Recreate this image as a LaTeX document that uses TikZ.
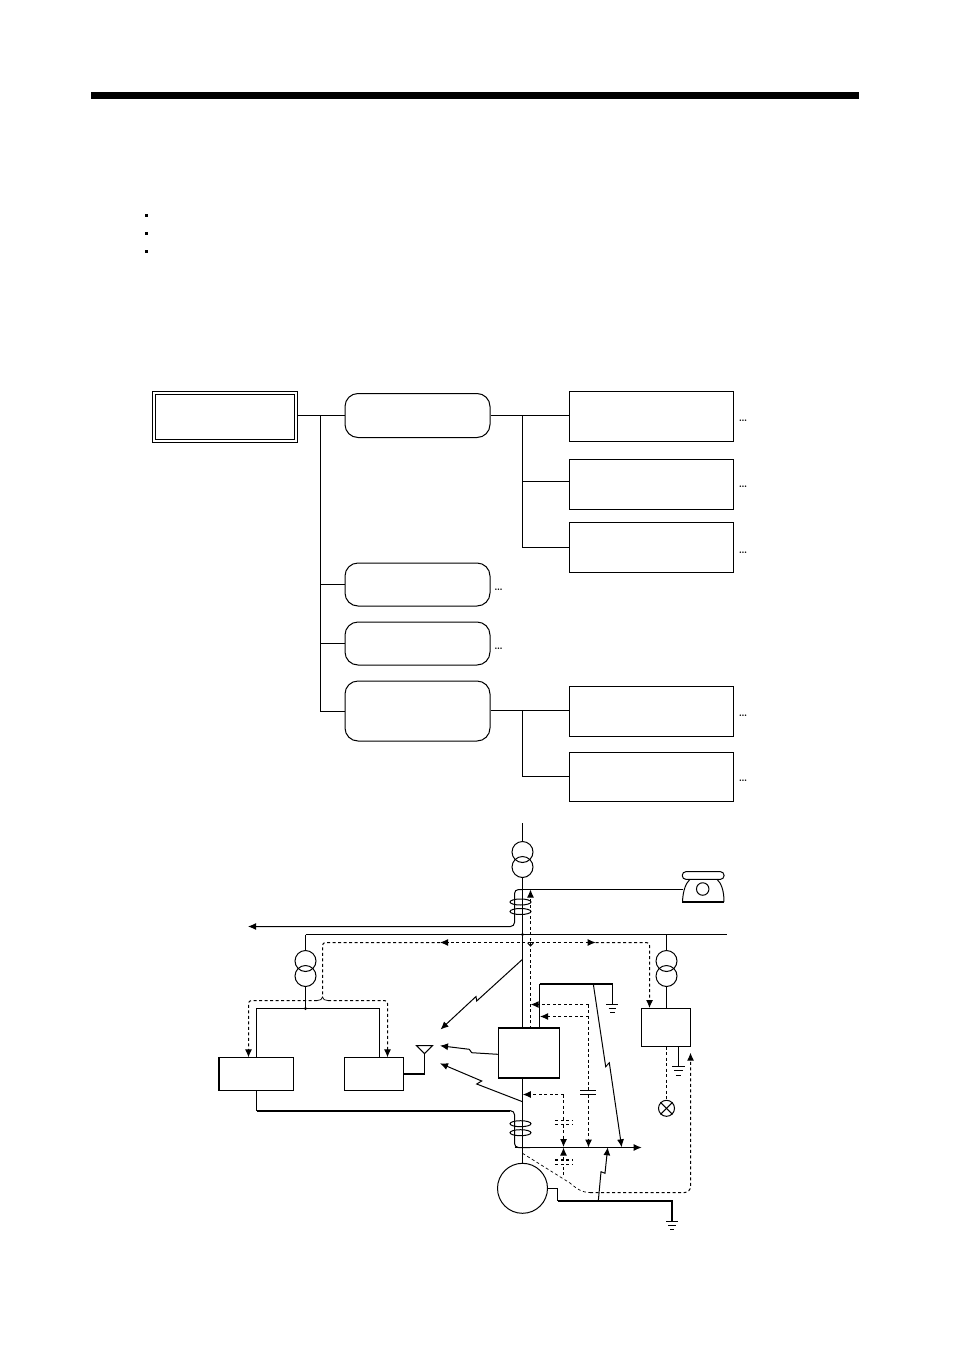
\documentclass[tikz,border=0pt]{standalone}
\usepackage{amsmath}
\usepackage{tikz}
\usetikzlibrary{arrows.meta,shapes.geometric}
\tikzset{
  wire/.style={line width=1pt},
  heavy/.style={line width=2.2pt},
  dashline/.style={line width=1pt, dash pattern=on 3pt off 2.5pt},
  arr/.style={-{Latex[length=8pt,width=7pt]}},
  treebox/.style={draw, line width=1pt, inner sep=0pt},
  roundbox/.style={treebox, rounded corners=13pt},
  trafo/.style={draw, line width=1pt, circle, inner sep=0pt, minimum size=21pt},
  coil/.style={draw, line width=1pt, ellipse, inner sep=0pt, minimum width=21pt, minimum height=6pt},
  bullet/.style={fill=black, inner sep=0pt, minimum size=3pt},
  jdot/.style={fill=black, circle, inner sep=0pt, minimum size=3.2pt},
  more/.style={inner sep=0pt, font=\bfseries\normalsize}
}
\begin{document}
\begin{tikzpicture}[x=1pt, y=-1pt]
\useasboundingbox (0,0) rectangle (954,1351);
% kopf
\fill[black] (91,92) rectangle (859,99);
\node[bullet] (P1) at (146,215.5) {};
\node[bullet] (P2) at (146,233) {};
\node[bullet] (P3) at (146,251) {};

% baum
\node[treebox, minimum width=145pt, minimum height=51pt] (R) at (224.5,416.5) {};
\node[treebox, minimum width=139pt, minimum height=45pt] (RR) at (224.5,416.5) {};

\node[roundbox, minimum width=145pt, minimum height=44pt] (A) at (417.5,415.5) {};
\node[roundbox, minimum width=145pt, minimum height=43pt] (B) at (417.5,584.5) {};
\node[roundbox, minimum width=145pt, minimum height=43pt] (C) at (417.5,643.5) {};
\node[roundbox, minimum width=145pt, minimum height=60pt] (D) at (417.5,711) {};

\node[treebox, minimum width=164pt, minimum height=50pt] (A1) at (651,416) {};
\node[treebox, minimum width=164pt, minimum height=50pt] (A2) at (651,484) {};
\node[treebox, minimum width=164pt, minimum height=50pt] (A3) at (651,547.5) {};
\node[treebox, minimum width=164pt, minimum height=50pt] (D1) at (651,711) {};
\node[treebox, minimum width=164pt, minimum height=49pt] (D2) at (651,776.5) {};

\node[more] (MA1) at (743,421) {\ldots};
\node[more] (MA2) at (743,487) {\ldots};
\node[more] (MA3) at (743,552.5) {\ldots};
\node[more] (MB) at (498.5,589.5) {\ldots};
\node[more] (MC) at (498.5,648.5) {\ldots};
\node[more] (MD1) at (743,716) {\ldots};
\node[more] (MD2) at (743,781) {\ldots};

\coordinate (T1) at (320.5,415.5);
\coordinate (T2) at (522.5,415.5);
\coordinate (T3) at (522.5,710.5);
\draw[wire] (R.east |- T1) -- (A.west |- T1);
\draw[wire] (T1) |- (B);
\draw[wire] (T1) |- (C);
\draw[wire] (T1) |- (D);
\draw[wire] (A.east |- T2) -- (A1.west |- T2);
\draw[wire] (T2) |- ([yshift=3pt]A2.west);
\draw[wire] (T2) |- (A3);
\draw[wire] (D.east |- T3) -- (D1.west |- T3);
\draw[wire] (T3) |- (D2);

% trafos und kaesten
\node[trafo] (TM1) at (522.5,852) {};
\node[trafo] (TM2) at (522.5,867) {};
\node[trafo] (TL1) at (305.5,961) {};
\node[trafo] (TL2) at (305.5,976) {};
\node[trafo] (TR1) at (666.5,961) {};
\node[trafo] (TR2) at (666.5,976) {};

\node[draw, line width=1.1pt, inner sep=0pt, minimum width=61pt, minimum height=49pt] (BK) at (528.8,1053.3) {};
\draw[heavy] (BK.north west) -- (BK.north east);
\draw[heavy] (BK.south west) -- (BK.south east);
\node[treebox, minimum width=74.5pt, minimum height=33pt] (LB) at (256.5,1073.8) {};
\draw[heavy] (LB.north west) -- (LB.south west);
\node[treebox, minimum width=58.6pt, minimum height=33pt] (RB) at (374,1073.8) {};
\node[treebox, minimum width=48.6pt, minimum height=38pt] (SB) at (666,1027) {};
\node[draw, line width=1pt, circle, inner sep=0pt, minimum size=50pt] (M) at (522.5,1188.3) {};

\node[coil] (C1) at (520.5,902) {};
\node[coil] (C2) at (520.5,911.5) {};
\node[coil] (C3) at (520.5,1123.7) {};
\node[coil] (C4) at (520.5,1132.7) {};

\coordinate (BL) at (305.5,934.5);
\coordinate (BR) at (727,934.5);
\coordinate (BM) at (666.5,934.5);
\coordinate (TOP) at (522.5,823);
\coordinate (SP) at (522.5,889.5);
\coordinate (TEL) at (682.5,889.5);
\node[jdot] (JM) at (522.5,934.5) {};
\node[jdot] (JL) at (305.5,1008.5) {};

% hauptleitung
\draw[wire] (TOP) -- (TM1);
\draw[wire] (TM2) -- (SP);
\draw[wire] (SP) -- (JM);
\draw[wire] (JM) -- (JM |- BK.north);
\draw[wire] (BK.south -| M) -- (M);
\draw[wire] (BL) -- (BR);
\draw[wire] (BL) -- (TL1);
\draw[wire] (TL2) -- (JL);
\draw[wire] (BM) -- (TR1);
\draw[wire] (TR2) -- (TR2 |- SB.north);
\draw[wire] (SP) -- (TEL);

% telefon
\node[draw, line width=1pt, circle, inner sep=0pt, minimum size=12.5pt] (PH) at (702.7,889) {};
\draw[wire, rounded corners=3.5pt] (682.3,871.7) rectangle (724,879.3);
\draw[wire] (682.5,901.7) .. controls (683,890) and (686,883) .. (690,879.3);
\draw[wire] (724,901.7) .. controls (724,890) and (721,883) .. (717,879.3);
\draw[line width=1.6pt] (682.3,901.7) -- (724.2,901.7);

% schutzleiter
\draw[wire, arr, rounded corners=4pt] (SP) -- (514.5,889.5) -- (514.5,926.5) -- (248,926.5);
\coordinate (LS) at (379.5,1008.5);
\coordinate (LE) at (379.5,1057.3);
\draw[wire] (LB.north) |- (LS) -- (LE);
\coordinate (KA) at (424.5,1073.7);
\draw[heavy] (RB.east |- KA) -- (KA);
\node[draw, line width=1pt, isosceles triangle, shape border rotate=-90, isosceles triangle apex angle=90, inner sep=0pt, minimum width=16pt, minimum height=8pt] (AN) at (424.5,1049) {};
\draw[wire] (AN.apex) -- (KA);
\coordinate (LC) at (256.5,1110.7);
\coordinate (LL) at (510,1110.7);
\draw[wire] (LB.south) -- (LC);
\draw[heavy] (LC) -- (LL);
\draw[wire, rounded corners=4pt] (LL) -- (514.5,1110.7) -- (514.5,1147.5) -- (530,1147.5);
\draw[wire, arr] (514.5,1147.5) -- (641.7,1147.5);

% erdung
\coordinate (GA) at (539.5,984);
\coordinate (GB) at (612.5,984);
\coordinate (GC) at (612.5,1004.5);
\draw[wire] (GA |- BK.north) -- (GA);
\draw[heavy] (GA) -- (GB);
\draw[wire] (GB) -- (GC);
\draw[wire] (606.3,1004.5) -- (618.3,1004.5);
\draw[wire] (608.5,1008.5) -- (616,1008.5);
\draw[wire] (610,1012.5) -- (614.5,1012.5);
\coordinate (GD) at (678.5,1066.5);
\draw[wire] (SB.south -| GD) -- (GD);
\draw[wire] (672,1066.5) -- (684.7,1066.5);
\draw[wire] (674,1070.5) -- (682.5,1070.5);
\draw[wire] (675.8,1075) -- (680.7,1075);
\coordinate (MB2) at (557.5,1201);
\coordinate (GE) at (672,1201);
\coordinate (GF) at (672,1221);
\draw[wire] (M.east) -- (557.5,1188.3) -- (MB2);
\draw[heavy] (MB2) -- (GE) -- (GF);
\draw[wire] (666,1221.5) -- (678,1221.5);
\draw[wire] (668,1225.5) -- (676,1225.5);
\draw[wire] (670,1229.5) -- (674,1229.5);

% lampe
\node[draw, line width=1pt, circle, inner sep=0pt, minimum size=16pt] (LP) at (666.5,1108.3) {};
\draw[wire] (LP.45) -- (LP.225);
\draw[wire] (LP.135) -- (LP.315);

% gestrichelte leitungen
\coordinate (DF) at (530.5,942.5);
\draw[dashline, arr] (530.5,1028.5) -- (530.5,889.5);
\draw[wire] (527.6,942.8) -- (530.5,946) -- (533.4,942.8);
\draw[dashline, arr] (DF) -- (440,942.5);
\draw[dashline, rounded corners=3pt] (440,942.5) -- (322.5,942.5) -- (322.5,997);
\draw[dashline, arr] (DF) -- (595.7,942.5);
\draw[dashline, arr, rounded corners=3pt] (595.7,942.5) -- (649.5,942.5) -- (649.5,1008);
\draw[line width=0.7pt] (317,1000.5) .. controls (320,1000.5) and (322.5,999.5) .. (322.5,997) .. controls (322.5,999.5) and (325,1000.5) .. (328,1000.5);
\draw[dashline, arr, rounded corners=3pt] (317,1000.5) -- (248.5,1000.5) -- (248.5,1057.3);
\draw[dashline, arr, rounded corners=3pt] (328,1000.5) -- (387.5,1000.5) -- (387.5,1057.3);

\coordinate (KV) at (588.5,1004.5);
\draw[dashline, arr] (KV) -- (530.7,1004.5);
\draw[dashline, arr] (588.5,1016.5) -- (540,1016.5);
\draw[dashline] (KV) -- (588.5,1090.7);
\draw[wire] (580,1090.5) -- (595.7,1090.5);
\draw[wire] (580,1094.5) -- (595.7,1094.5);
\draw[dashline, arr] (588.5,1094.5) -- (588.5,1147.5);

\coordinate (KW) at (563.5,1094.5);
\draw[dashline, arr] (KW) -- (522.8,1094.5);
\draw[dashline] (KW) -- (563.5,1120.5);
\draw[dashline] (555.3,1120.5) -- (572,1120.5);
\draw[dashline] (555.3,1124.5) -- (572,1124.5);
\draw[dashline, arr] (563.5,1124.5) -- (563.5,1147);
\draw[dashline] (563.5,1175) -- (563.5,1164.5);
\draw[dashline, line width=1.3pt] (555.3,1160) -- (572,1160);
\draw[dashline, line width=1.3pt] (555.3,1164.5) -- (572,1164.5);
\draw[dashline, arr] (563.5,1160) -- (563.5,1147.6);

\draw[dashline] (SB.south -| LP) -- (LP);
\draw[line width=0.7pt, dash pattern=on 3pt off 2.5pt] (522.5,1153.3) -- (570,1183) .. controls (577,1189) and (582,1192.5) .. (590,1192.5);
\draw[dashline, arr, rounded corners=6pt] (590,1192.5) -- (690.5,1192.5) -- (690.5,1052.7);

% funkstrecken
\draw[wire, arr] (522.5,959.3) -- (476.7,1001) -- (476,996.5) -- (440.5,1029.5);
\draw[wire, arr] (BK.west |- 0,1054.3) -- (471.7,1052.7) -- (469.3,1049.3) -- (440,1045.7);
\draw[wire, arr] (522.5,1101.7) -- (476.7,1084) -- (481.7,1081) -- (440,1063.3);
\draw[wire, arr] (593.3,984) -- (605.7,1066.7) -- (609.3,1062.7) -- (621.7,1147.3);
\draw[wire, arr] (598.3,1201) -- (601,1171.7) -- (605,1173.3) -- (607.7,1147.3);
\end{tikzpicture}
\end{document}
